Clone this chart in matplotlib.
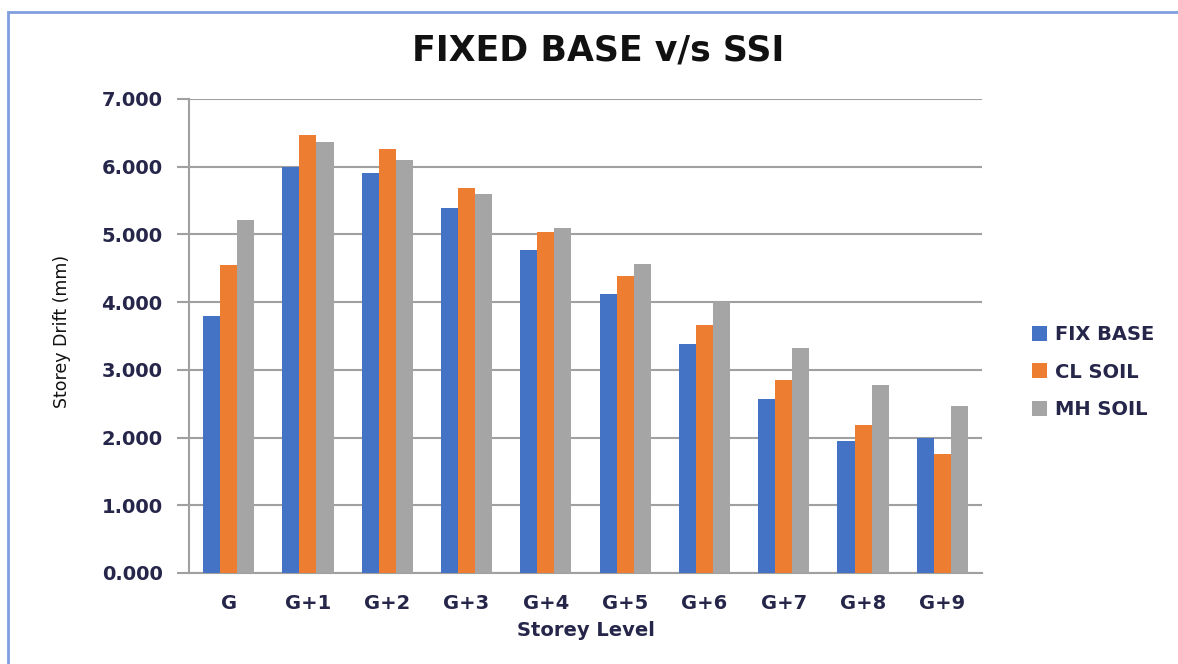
import numpy as np
import matplotlib.pyplot as plt
from matplotlib.patches import Rectangle

levels = ["G", "G+1", "G+2", "G+3", "G+4", "G+5", "G+6", "G+7", "G+8", "G+9"]
fix_base = [3.80, 6.00, 5.91, 5.39, 4.77, 4.12, 3.38, 2.57, 1.95, 2.00]
cl_soil = [4.55, 6.47, 6.26, 5.68, 5.04, 4.39, 3.66, 2.85, 2.18, 1.76]
mh_soil = [5.21, 6.37, 6.10, 5.60, 5.10, 4.57, 4.00, 3.32, 2.78, 2.47]

series = ["FIX BASE", "CL SOIL", "MH SOIL"]
colors = ["#4472C4", "#ED7D31", "#A5A5A5"]

plt.rcParams['font.family'] = ['DejaVu Sans']
txt = "#26264a"

fig = plt.figure(figsize=(11.78, 6.64), dpi=100)
W, H = 1178, 664
ax = fig.add_axes([189 / W, 1 - 573 / H, (982 - 189) / W, (573 - 99) / H])

x = np.arange(len(levels))
w = 0.215
for i, (vals, name) in enumerate(zip([fix_base, cl_soil, mh_soil], series)):
    ax.bar(x + (i - 1) * w, vals, width=w, color=colors[i], label=name, zorder=3)

ax.set_xlim(-0.5, len(levels) - 0.5)
ax.set_ylim(0, 7)
ax.set_yticks(np.arange(0, 8, 1))
ax.set_yticklabels([f"{v:.3f}" for v in range(8)], fontsize=14, fontweight="bold", color=txt)
ax.set_xticks(x)
ax.set_xticklabels(levels, fontsize=14, fontweight="bold", color=txt)
ax.tick_params(axis="x", length=0, pad=15)
ax.tick_params(axis="y", length=9, width=1.5, color="#a0a0a0", pad=10)
ax.grid(axis="y", color="#a0a0a0", linewidth=1.5, zorder=0)
for s in ["top", "right"]:
    ax.spines[s].set_visible(False)
for s in ["left", "bottom"]:
    ax.spines[s].set_color("#a0a0a0")
    ax.spines[s].set_linewidth(1.5)

ax.set_xlabel("Storey Level", fontsize=14, fontweight="bold", color=txt, labelpad=6)
fig.text(62 / W, 1 - 331 / H, "Storey Drift (mm)", rotation=90, ha="center", va="center",
         fontsize=12.5, color="#111111", family=["Liberation Sans Narrow", "DejaVu Sans"])
fig.text(598 / W, 1 - 51 / H, "FIXED BASE v/s SSI", ha="center", va="center",
         fontsize=25, fontweight="bold", color="#111111")

ax.legend(loc="center left", bbox_to_anchor=(1014 / W, 1 - 372 / H), bbox_transform=fig.transFigure,
          frameon=False, prop={"size": 14, "weight": "bold"}, labelcolor=txt,
          handlelength=0.8, handleheight=0.8, handletextpad=0.4, labelspacing=0.95)

fig.patches.append(Rectangle((8 / W, -0.01), 1.2, 1 - 12 / H + 0.01, transform=fig.transFigure,
                             fill=False, edgecolor="#7f9fdf", linewidth=2))

fig.savefig("out.png", dpi=100)
